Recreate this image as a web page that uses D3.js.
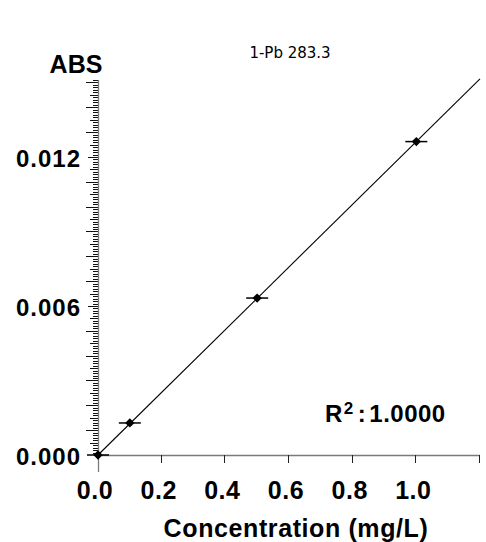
<!DOCTYPE html>
<html>
<head>
<meta charset="utf-8">
<script src="https://cdn.jsdelivr.net/npm/d3@7"></script>
<style>
  body { margin: 0; background: #fff; }
  svg { display: block; font-family: "Liberation Sans", Arial, sans-serif; }
</style>
</head>
<body>
<div id="chart"></div>
<script>
// size of the whole svg
const width = 486;
const height = 542;
const margin = {top: 80, right: 6, bottom: 87, left: 98};

// data
const concentrations = [0.0, 0.1, 0.5, 1.0];
const absorbances = [0.0, 0.00129, 0.00632, 0.01262];
const slope = 0.01262;
const intercept = 0.0;
const xTicks = [0.0, 0.2, 0.4, 0.6, 0.8, 1.0];
const yTicks = [0.000, 0.006, 0.012];
const title = "1-Pb 283.3";
const rSquared = "1.0000";

const axisColour = "#7a7a7a";

const svg = d3.select("#chart").append("svg")
  .attr("width", width)
  .attr("height", height);

/// Scales ///
const x = d3.scaleLinear().domain([0, 1.2]).range([margin.left, width - margin.right]);
const y = d3.scaleLinear().domain([0, 0.0151]).range([height - margin.bottom, margin.top]);
const y0 = y(0);
const x0 = x(0);

/// Y axis: minor / medium / labelled ticks ///
const yAxisG = svg.append("g");
const minorTicks = d3.range(0, 0.01511, 0.0001).map(d => +d.toFixed(4));
yAxisG.selectAll(".ytick")
  .data(minorTicks.filter(d => d > 0))
  .join("line")
    .attr("x1", d => {
      const k = Math.round(d * 10000);
      if (k % 60 === 0) return x0 - 10;
      if (k % 10 === 0) return x0 - 12;
      if (k % 5 === 0) return x0 - 8;
      return x0 - 5;
    })
    .attr("x2", x0)
    .attr("y1", d => Math.round(y(d)) + 0.5)
    .attr("y2", d => Math.round(y(d)) + 0.5)
    .attr("stroke", "#111")
    .attr("stroke-width", 1);

yAxisG.append("line")
  .attr("x1", x0 + 0.5).attr("x2", x0 + 0.5)
  .attr("y1", y.range()[1]).attr("y2", y0 + 17)
  .attr("stroke", axisColour).attr("stroke-width", 1.3);

yAxisG.selectAll(".ylabel")
  .data(yTicks)
  .join("text")
    .attr("x", x0 - 17)
    .attr("y", d => y(d) + 10)
    .attr("text-anchor", "end")
    .attr("font-size", "24px")
    .attr("font-weight", "bold")
    .attr("letter-spacing", "1px")
    .text(d => d.toFixed(3));

svg.append("text")
  .attr("x", 76).attr("y", 73)
  .attr("text-anchor", "middle")
  .attr("font-size", "25px")
  .attr("font-weight", "bold")
  .text("ABS");

/// X axis ///
const xAxisG = svg.append("g");
xAxisG.append("line")
  .attr("x1", x0).attr("x2", width - margin.right)
  .attr("y1", y0 + 0.5).attr("y2", y0 + 0.5)
  .attr("stroke", axisColour).attr("stroke-width", 1.3);
xAxisG.selectAll(".xtick")
  .data(xTicks.concat([1.2]).filter(d => d > 0))
  .join("line")
    .attr("x1", d => Math.round(x(d)) - 0.5)
    .attr("x2", d => Math.round(x(d)) - 0.5)
    .attr("y1", y0)
    .attr("y2", y0 + 8)
    .attr("stroke", "#222");
xAxisG.selectAll(".xlabel")
  .data(xTicks)
  .join("text")
    .attr("x", d => x(d) - 3)
    .attr("y", y0 + 44)
    .attr("text-anchor", "middle")
    .attr("font-size", "25px")
    .attr("font-weight", "bold")
    .attr("letter-spacing", "0.5px")
    .text(d => d.toFixed(1));

svg.append("text")
  .attr("x", 296).attr("y", 537)
  .attr("text-anchor", "middle")
  .attr("font-size", "25px")
  .attr("font-weight", "bold")
  .attr("letter-spacing", "0.6px")
  .text("Concentration (mg/L)");

/// Regression line ///
svg.append("line")
  .attr("x1", x(0)).attr("y1", y(intercept))
  .attr("x2", x(1.2)).attr("y2", y(intercept + slope * 1.2))
  .attr("stroke", "#000")
  .attr("stroke-width", 1.1);

/// Points with horizontal bars ///
const points = svg.selectAll(".pt")
  .data(concentrations.map((c, i) => ({c, a: absorbances[i]})))
  .join("g")
    .attr("transform", d => `translate(${x(d.c)}, ${y(d.a)})`);
points.append("line")
  .attr("x1", -11).attr("x2", 11)
  .attr("stroke", "#000").attr("stroke-width", 1.5);
points.append("path")
  .attr("d", d3.symbol(d3.symbolDiamond2, 55))
  .attr("fill", "#000");

/// Title and R squared ///
svg.append("text")
  .attr("x", 290).attr("y", 58)
  .attr("text-anchor", "middle")
  .attr("font-family", "'DejaVu Sans', sans-serif")
  .attr("font-size", "15px")
  .text(title);

const r2 = svg.append("text")
  .attr("x", 325).attr("y", 422)
  .attr("font-size", "24px")
  .attr("font-weight", "bold")
  .attr("letter-spacing", "0.5px");
r2.append("tspan").text("R");
r2.append("tspan").attr("dy", -8).attr("dx", 1).attr("font-size", "17px").text("2");
r2.append("tspan").attr("dy", 8).attr("dx", 4).text(":");
r2.append("tspan").attr("dx", 3).text(rSquared);
</script>
</body>
</html>
